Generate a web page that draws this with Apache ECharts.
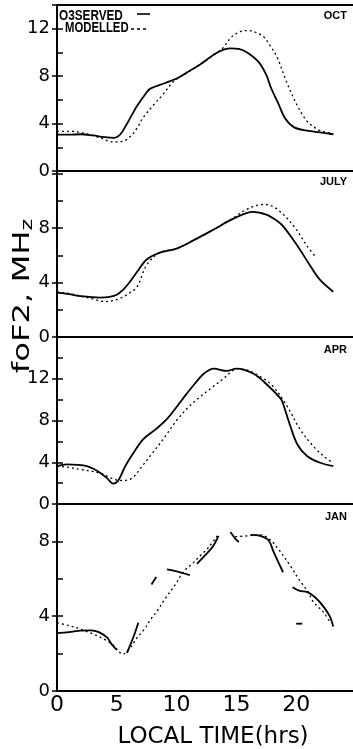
<!DOCTYPE html>
<html><head><meta charset="utf-8">
<script src="https://cdn.jsdelivr.net/npm/echarts@6/dist/echarts.min.js"></script>
<style>html,body{margin:0;padding:0;background:#fff}#c{width:353px;height:749px}</style>
</head><body><div id="c"></div>
<script>
// ---- data (hours, foF2 MHz) ----
const panelNames = ['OCT', 'JULY', 'APR', 'JAN'];
const xTickLabels = [0, 5, 10, 15, 20];
const yLabelMax = [12, 8, 12, 8];
const yMax = [14, 12.2, 16, 10];

const octObsHrs  = [0, 1, 2, 3, 4, 4.8, 5.3, 5.8, 6.3, 6.7, 7.4, 7.8, 9, 10, 11, 12, 13.4, 14.5, 15.2, 15.9, 16.85, 17.5, 17.9, 18.5, 19.1, 19.8, 20.9, 22, 23.1];
const octObsVals = [3.06, 3.06, 3.1, 3.0, 2.85, 2.8, 3.1, 3.9, 4.8, 5.5, 6.5, 6.95, 7.4, 7.8, 8.4, 9.0, 10.0, 10.35, 10.3, 10.0, 9.2, 8.1, 7.0, 5.7, 4.4, 3.7, 3.4, 3.25, 3.1];
const octModHrs  = [0, 1, 1.7, 2.6, 3.6, 4.2, 4.7, 5.5, 6, 6.4, 6.8, 7.2, 8.1, 8.9, 9.7, 10.9, 12, 13.4, 13.9, 14.5, 15.2, 16, 16.6, 17.3, 17.8, 18.4, 19.2, 20.1, 20.9, 21.5, 22, 22.6, 23.1];
const octModVals = [3.35, 3.35, 3.3, 3.1, 2.8, 2.55, 2.45, 2.5, 2.8, 3.2, 3.8, 4.5, 5.6, 6.5, 7.5, 8.3, 9.0, 10.0, 10.4, 11.2, 11.7, 11.85, 11.7, 11.3, 10.6, 9.6, 7.5, 5.5, 4.2, 3.7, 3.4, 3.25, 3.15];

const julObsHrs  = [0, 1, 2, 3.6, 4.4, 5, 5.5, 6, 6.7, 7.5, 8.6, 10, 11.4, 13.1, 14.75, 16.4, 17.5, 18.3, 18.9, 20.1, 21.2, 22, 23.1];
const julObsVals = [3.26, 3.15, 3.0, 2.9, 2.95, 3.1, 3.45, 3.95, 4.8, 5.7, 6.2, 6.5, 7.1, 7.9, 8.7, 9.2, 9.0, 8.6, 8.15, 6.7, 5.2, 4.2, 3.33];
const julModHrs  = [0, 1, 2, 3, 4, 4.8, 5.3, 6, 6.7, 7.5, 8.6, 10, 11.4, 13.1, 14.75, 15.9, 17.3, 18.4, 19.8, 20.9, 21.7];
const julModVals = [3.3, 3.2, 3.0, 2.8, 2.6, 2.7, 2.85, 3.2, 3.7, 5.3, 6.2, 6.5, 7.1, 7.9, 8.75, 9.4, 9.75, 9.4, 8.15, 6.7, 5.8];

const aprObsHrs  = [0, 0.8, 1.8, 2.5, 3.0, 3.6, 4.2, 4.7, 5.1, 5.7, 6.4, 7.2, 8.3, 9.2, 10, 10.8, 11.5, 12.3, 13.1, 14.2, 15.0, 16.4, 17.5, 18.7, 18.9, 19.5, 20.1, 20.9, 22, 23.1];
const aprObsVals = [3.63, 3.8, 3.75, 3.63, 3.4, 3.0, 2.45, 1.96, 2.2, 3.6, 4.9, 6.2, 7.2, 8.15, 9.3, 10.5, 11.5, 12.5, 12.97, 12.75, 12.97, 12.5, 11.5, 10.1, 9.6, 7.5, 5.7, 4.6, 3.95, 3.63];
const aprModHrs  = [0, 1, 2, 2.8, 3.6, 4.3, 5, 5.6, 6.3, 7.1, 8, 9, 10, 11, 12, 13, 13.9, 14.5, 15, 16, 17, 18, 19.2, 20.3, 21.5, 22.6, 23.1];
const aprModVals = [3.63, 3.5, 3.3, 3.15, 2.95, 2.6, 2.3, 2.25, 2.5, 3.6, 4.9, 6.4, 8.0, 9.3, 10.3, 11.2, 12.0, 12.6, 12.97, 12.8, 12.2, 11.35, 9.45, 7.2, 5.45, 4.3, 3.95];

const janObsHrs  = [0, 1, 2, 2.8, 3.5, 4.2, 4.6, 5, 5.4, 5.85, 6.4, 6.8, 7.3, 7.9, 8.3, 8.7, 9.2, 10.3, 11.1, 11.4, 11.7, 12.3, 13, 13.5, 14, 14.5, 14.9, 15.2, 15.7, 16.2, 17, 17.7, 18.1, 18.9, 19.3, 19.7, 20.3, 20.9, 21.6, 22.3, 22.8, 23.1];
const janObsVals = [3.1, 3.15, 3.23, 3.24, 3.15, 2.85, 2.47, 2.2, null, 2.04, 2.9, 3.65, null, 5.7, 6.1, null, 6.5, 6.35, 6.2, null, 6.8, 7.2, 7.7, 8.3, null, 8.5, 8.15, 7.97, null, 8.35, 8.3, 8.05, 7.45, 6.35, null, 5.55, 5.35, 5.3, 5.0, 4.5, 4.0, 3.45];
const janStrayHrs  = [20.0, 20.5];
const janStrayVals = [3.6, 3.6];
const janModHrs  = [0, 1, 2, 3, 4, 4.7, 5.2, 5.5, 6, 6.7, 7.3, 7.8, 8.4, 9, 9.9, 10.6, 11.3, 12, 12.7, 13.4, 14.1, 14.9, 16, 17, 17.8, 18.5, 19.5, 20.3, 21, 21.4, 22.3, 22.8];
const janModVals = [3.65, 3.5, 3.3, 3.05, 2.75, 2.45, 2.1, 1.97, 2.2, 2.85, 3.3, 3.8, 4.3, 4.9, 5.7, 6.4, 6.8, 7.25, 7.7, 8.3, null, 8.25, 8.3, 8.35, 8.1, 7.6, 6.7, 5.9, 5.3, 4.8, 4.2, 3.7];

const legendLabels = ['O3SERVED', 'MODELLED'];
const xTitle = 'LOCAL TIME(hrs)';

// ---- build ----
function pairs(h, v) { return h.map((x, i) => [x, v[i] === null ? '-' : v[i]]); }

const grids = [
  { top: 5, height: 166 },
  { top: 171, height: 166 },
  { top: 337, height: 167 },
  { top: 504, height: 187 }
].map(g => Object.assign({ left: 57, right: -3, outerBoundsMode: 'none', containLabel: false, show: false }, g));

const FONT = 'DejaVu Sans';
const xAxes = [], yAxes = [];
for (let i = 0; i < 4; i++) {
  const last = i === 3;
  xAxes.push({
    type: 'value', gridIndex: i, min: 0, max: 25, interval: 5, position: 'bottom',
    axisLine: { show: true, onZero: false, lineStyle: { color: '#000', width: 2 } },
    axisTick: { show: false }, splitLine: { show: false },
    axisLabel: last ? {
      show: true, color: '#000', fontSize: 22, fontFamily: FONT, margin: 3,
      showMaxLabel: false,
      formatter: v => (xTickLabels.indexOf(v) >= 0 ? String(v) : '')
    } : { show: false }
  });
  const lm = yLabelMax[i];
  yAxes.push({
    type: 'value', gridIndex: i, min: 0, max: yMax[i], interval: 4,
    axisLine: { show: true, lineStyle: { color: '#000', width: 2 } },
    axisTick: { show: true, inside: false, length: 5, lineStyle: { color: '#000', width: 1.5 } },
    splitLine: { show: false },
    axisLabel: { color: '#000', fontSize: 18, fontFamily: FONT, margin: 7,
      formatter: v => (v % 4 === 0 && v <= lm ? String(v) : '') }
  });
  yAxes.push({
    type: 'value', gridIndex: i, min: 0, max: yMax[i], interval: 2, position: 'left',
    axisLine: { show: false },
    axisTick: { show: true, inside: true, length: 6, lineStyle: { color: '#000', width: 1.5 } },
    splitLine: { show: false }, axisLabel: { show: false }
  });
}
// top frame line of the first panel
xAxes.push({
  type: 'value', gridIndex: 0, min: 0, max: 25, position: 'top',
  axisLine: { show: true, onZero: false, lineStyle: { color: '#000', width: 2 } },
  axisTick: { show: false }, splitLine: { show: false }, axisLabel: { show: false }
});

const obsStyle = { color: '#000', width: 1.8, type: 'solid' };
const modStyle = { color: '#000', width: 1.3, type: [2, 3] };
function line(data, i, style) {
  return { type: 'line', xAxisIndex: i, yAxisIndex: 2 * i, data: data, smooth: 0.35,
    showSymbol: false, symbol: 'none', connectNulls: false, lineStyle: style, silent: true, animation: false };
}
const series = [
  line(pairs(octObsHrs, octObsVals), 0, obsStyle),
  line(pairs(octModHrs, octModVals), 0, modStyle),
  line(pairs(julObsHrs, julObsVals), 1, obsStyle),
  line(pairs(julModHrs, julModVals), 1, modStyle),
  line(pairs(aprObsHrs, aprObsVals), 2, obsStyle),
  line(pairs(aprModHrs, aprModVals), 2, modStyle),
  line(pairs(janObsHrs, janObsVals), 3, obsStyle),
  line(pairs(janStrayHrs, janStrayVals), 3, obsStyle),
  line(pairs(janModHrs, janModVals), 3, modStyle)
];

const panelLabelY = [16, 182, 350, 517];
const graphic = [];
panelNames.forEach((n, i) => graphic.push({
  type: 'text', x: 347, y: panelLabelY[i],
  style: { text: n, fill: '#000', font: 'bold 11px "Liberation Sans"', textAlign: 'right', textVerticalAlign: 'middle' }
}));
// legend
graphic.push({ type: 'text', x: 59, y: 16, scaleX: 0.84,
  style: { text: legendLabels[0], fill: '#000', font: 'bold 14px "Liberation Sans"', textAlign: 'left', textVerticalAlign: 'middle' } });
graphic.push({ type: 'line', shape: { x1: 137, y1: 14, x2: 150, y2: 14 }, style: { stroke: '#000', lineWidth: 1.6 } });
graphic.push({ type: 'text', x: 65, y: 28.5, scaleX: 0.81,
  style: { text: legendLabels[1], fill: '#000', font: 'bold 14px "Liberation Sans"', textAlign: 'left', textVerticalAlign: 'middle' } });
graphic.push({ type: 'line', shape: { x1: 131, y1: 29, x2: 149, y2: 29 }, style: { stroke: '#000', lineWidth: 1.5, lineDash: [3, 3] } });
// axis titles
graphic.push({ type: 'text', x: 213, y: 737,
  style: { text: xTitle, fill: '#000', font: '23px "DejaVu Sans"', textAlign: 'center', textVerticalAlign: 'middle' } });
graphic.push({ type: 'text', x: 23, y: 296, rotation: Math.PI / 2, scaleX: 1.4,
  style: { text: '{n|foF2, MH}{s|z}', textAlign: 'center', textVerticalAlign: 'middle',
    rich: { n: { fontSize: 23, fontFamily: FONT, fill: '#000', lineHeight: 26 },
            s: { fontSize: 16, fontFamily: FONT, fill: '#000', lineHeight: 26, verticalAlign: 'bottom', padding: [8, 0, 0, 0] } } } });

const chart = echarts.init(document.getElementById('c'), null, { renderer: 'canvas' });
chart.setOption({ backgroundColor: '#fff', animation: false, grid: grids, xAxis: xAxes, yAxis: yAxes, series: series, graphic: graphic });
</script></body></html>
